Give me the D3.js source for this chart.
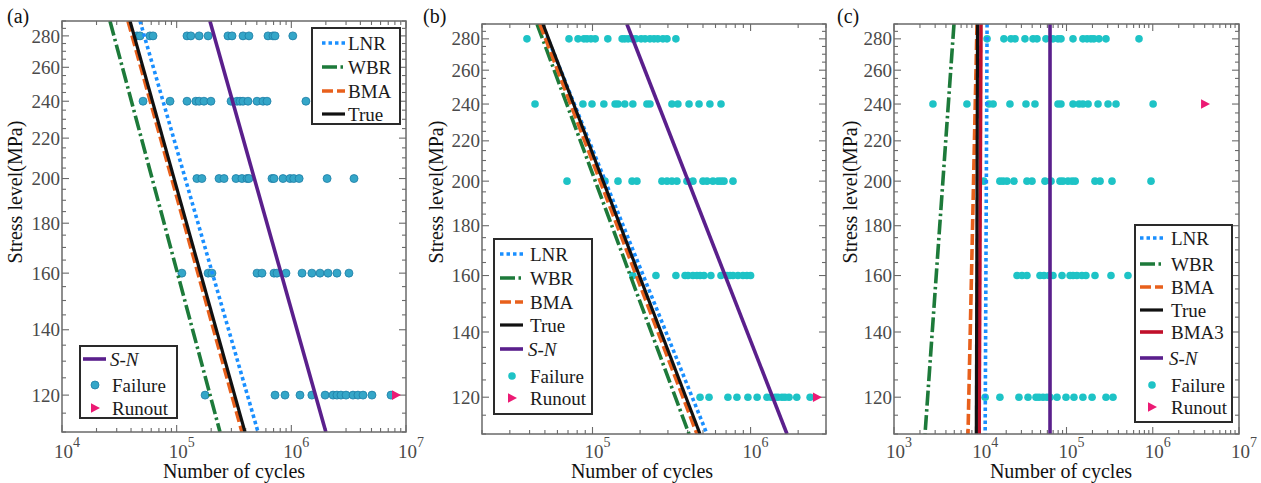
<!DOCTYPE html>
<html>
<head>
<meta charset="utf-8">
<script src="https://cdn.jsdelivr.net/npm/d3@7"></script>
<style>
  body { margin: 0; background: #fff; }
  svg, svg text { font-family: "Liberation Serif", Tinos, "Times New Roman", Times, "Nimbus Roman", "Nimbus Roman No9 L", FreeSerif, "DejaVu Serif", "Noto Serif", serif; }
</style>
</head>
<body>
<svg width="1261" height="483"></svg>
<script>
// ---- data -----------------------------------------------------------
const stressLevels = [280, 240, 200, 160, 120];
const yTickLabels = [120, 140, 160, 180, 200, 220, 240, 260, 280];
const lineStress = [290, 110]; // every fitted line: N at S=290 and at S=110

// failure cycles, one list per stress level (same order as stressLevels)
const failA = [
  [45100, 47900, 58500, 62200, 123000, 133000, 157000, 188000, 280000, 304000, 379000, 427000, 626000, 692000, 721000, 1030000],
  [50900, 87500, 123000, 147000, 157000, 173000, 199000, 298000, 336000, 357000, 379000, 419000, 502000, 566000, 614000, 1340000],
  [150000, 166000, 234000, 259000, 329000, 371000, 411000, 427000, 678000, 706000, 846000, 973000, 1050000, 1170000, 2050000, 3520000],
  [111000, 188000, 203000, 502000, 555000, 706000, 750000, 898000, 1240000, 1510000, 1780000, 2090000, 2500000, 3180000],
  [177000, 721000, 881000, 1190000, 1510000, 1970000, 2310000, 2500000, 2710000, 3000000, 3450000, 3810000, 4220000, 5050000, 7400000]
];
const failB = [
  [38500, 71000, 81000, 88300, 92300, 97800, 104000, 125000, 154000, 160000, 168000, 178000, 188000, 203000, 215000, 231000, 245000, 259000, 279000, 296000, 337000],
  [43300, 87000, 99300, 118000, 139000, 145000, 160000, 180000, 221000, 231000, 318000, 347000, 408000, 472000, 553000, 650000],
  [69000, 120000, 145000, 178000, 191000, 275000, 296000, 318000, 342000, 396000, 432000, 500000, 530000, 578000, 622000, 650000, 679000, 774000],
  [180000, 252000, 337000, 385000, 402000, 432000, 458000, 479000, 507000, 561000, 650000, 710000, 741000, 774000, 832000, 895000, 948000, 1000000],
  [479000, 546000, 719000, 820000, 962000, 1100000, 1270000, 1350000, 1430000, 1490000, 1580000, 1650000, 1750000, 1960000, 2380000]
];
const failC = [
  [12000, 18800, 22700, 25300, 33000, 40900, 45500, 57800, 69700, 79700, 86300, 119000, 155000, 173000, 192000, 208000, 238000, 287000, 693000],
  [2830, 7010, 12600, 14100, 22100, 33900, 43100, 79700, 86300, 119000, 140000, 155000, 178000, 232000, 303000, 375000, 1010000],
  [11000, 16900, 18400, 20400, 24600, 34800, 39800, 56300, 66100, 84100, 91000, 104000, 116000, 126000, 214000, 245000, 337000, 955000],
  [26700, 30500, 34800, 49300, 54800, 62700, 69700, 88700, 110000, 119000, 132000, 151000, 168000, 214000, 328000, 516000],
  [11400, 16900, 28100, 35800, 44300, 48000, 53400, 59400, 64400, 77600, 98700, 122000, 155000, 198000, 287000, 346000]
];
// runouts: [stress, cycles]
const runA = [[120, 8180000]];
const runB = [[120, 2630000]];
const runC = [[240, 4040000]];

// fitted lines: [name, N at S=290, N at S=110]
const linesA = [["LNR", 47900, 512000], ["WBR", 26200, 238700], ["BMA", 37600, 371000], ["True", 39200, 394000], ["S-N", 195000, 2000000]];
const linesB = [["LNR", 48000, 530000], ["WBR", 44600, 408000], ["BMA", 46500, 458000], ["True", 48600, 479000], ["S-N", 165000, 1700000]];
const linesC = [["LNR", 12000, 11400], ["WBR", 4960, 2290], ["BMA", 9170, 7210], ["BMA3", 10200, 9700], ["True", 9300, 9000], ["S-N", 64400, 64400]];

// ---- styles ---------------------------------------------------------
const lineStyle = {
  "LNR":  { color: "#1a8fff", width: 3.6, dash: "3.5,3" },
  "WBR":  { color: "#1d7a3a", width: 3.6, dash: "15,3.5,2.5,3.5" },
  "BMA":  { color: "#e8601c", width: 3.6, dash: "11,4" },
  "True": { color: "#111111", width: 3.2, dash: null },
  "BMA3": { color: "#c0102a", width: 3.6, dash: null },
  "S-N":  { color: "#5a1f8c", width: 3.6, dash: null }
};
const RUNOUT = "#ec1a74";

const panels = [
  { id: "a", label: "(a)", labelX: 7, left: 62, right: 406, top: 21, bottom: 432, xDomain: [1e4, 1e7],
    fail: failA, run: runA, lines: linesA,
    pt: { fill: "#34a6c8", stroke: "#1e7ea6", r: 4 },
    yTitleX: 22, xTitleX: 234,
    legends: [
      { x: 312, y: 28, w: 88, h: 96, rows: [["LNR", 43], ["WBR", 67], ["BMA", 91], ["True", 114]], lx: 322, tx: 348 },
      { x: 80, y: 346, w: 97, h: 72, rows: [["S-N", 359], ["Failure", 385], ["Runout", 408]], lx: 83, tx: 112 }
    ] },
  { id: "b", label: "(b)", labelX: 423, left: 482, right: 826, top: 24, bottom: 434, xDomain: [2e4, 3e6],
    fail: failB, run: runB, lines: linesB,
    pt: { fill: "#1ec3c6", stroke: "none", r: 3.8 },
    yTitleX: 443, xTitleX: 642,
    legends: [
      { x: 494, y: 239, w: 98, h: 175, rows: [["LNR", 254], ["WBR", 278], ["BMA", 302], ["True", 325], ["S-N", 349], ["Failure", 376], ["Runout", 398]], lx: 500, tx: 530 }
    ] },
  { id: "c", label: "(c)", labelX: 837, left: 894, right: 1239, top: 24, bottom: 434, xDomain: [1e3, 1e7],
    fail: failC, run: runC, lines: linesC,
    pt: { fill: "#1ec3c6", stroke: "none", r: 3.8 },
    yTitleX: 857, xTitleX: 1061,
    legends: [
      { x: 1135, y: 225, w: 97, h: 197, rows: [["LNR", 238], ["WBR", 264], ["BMA", 287], ["True", 310], ["BMA3", 332], ["S-N", 358], ["Failure", 385], ["Runout", 407]], lx: 1140, tx: 1171 }
    ] }
];

const svg = d3.select("svg");
const tri = "M-4,-4.8L5,0L-4,4.8Z";

panels.forEach(function (p) {
  const x = d3.scaleLog().domain(p.xDomain).range([p.left, p.right]);
  const y = d3.scaleLog().domain([110, 290]).range([p.bottom, p.top]);
  const g = svg.append("g").attr("id", "panel-" + p.id);

  g.append("clipPath").attr("id", "clip-" + p.id)
    .append("rect").attr("x", p.left).attr("y", p.top)
    .attr("width", p.right - p.left).attr("height", p.bottom - p.top);

  // ticks (inward, on all four sides)
  const xt = [];
  const k0 = Math.floor(Math.log10(p.xDomain[0])), k1 = Math.ceil(Math.log10(p.xDomain[1]));
  for (let k = k0; k <= k1; k++) {
    for (let m = 1; m <= 9; m++) {
      const v = m * Math.pow(10, k);
      if (v >= p.xDomain[0] * 0.999 && v <= p.xDomain[1] * 1.001) xt.push({ v: v, major: m === 1, k: k });
    }
  }
  const ticks = g.append("g").attr("stroke", "#6a6a6a").attr("stroke-width", 1.1);
  xt.forEach(function (t) {
    const len = t.major ? 7 : 4;
    const px = x(t.v);
    ticks.append("line").attr("x1", px).attr("x2", px).attr("y1", p.bottom).attr("y2", p.bottom - len);
    ticks.append("line").attr("x1", px).attr("x2", px).attr("y1", p.top).attr("y2", p.top + len);
  });
  d3.range(110, 291, 5).forEach(function (v) {
    const major = yTickLabels.indexOf(v) >= 0;
    const len = major ? 7 : 4;
    const py = y(v);
    ticks.append("line").attr("x1", p.left).attr("x2", p.left + len).attr("y1", py).attr("y2", py);
    ticks.append("line").attr("x1", p.right).attr("x2", p.right - len).attr("y1", py).attr("y2", py);
  });

  // x tick labels 10^k
  xt.filter(function (t) { return t.major; }).forEach(function (t) {
    const tx = g.append("text").attr("x", x(t.v) - 8).attr("y", 458)
      .attr("font-size", 19).attr("fill", "#4a4a4a");
    tx.append("tspan").text("10");
    tx.append("tspan").attr("dy", -11).attr("font-size", 14).text(t.k);
  });
  // y tick labels
  g.selectAll(".ylab").data(yTickLabels).enter().append("text")
    .attr("x", p.left - 2).attr("y", function (d) { return y(d); }).attr("dy", "0.35em")
    .attr("text-anchor", "end").attr("font-size", 19).attr("fill", "#4a4a4a")
    .text(function (d) { return d; });

  // failure points
  const pts = g.append("g");
  stressLevels.forEach(function (s, i) {
    pts.selectAll(null).data(p.fail[i]).enter().append("circle")
      .attr("cx", function (d) { return x(d); }).attr("cy", y(s)).attr("r", p.pt.r)
      .attr("fill", p.pt.fill).attr("stroke", p.pt.stroke).attr("stroke-width", 0.8);
  });
  pts.selectAll(null).data(p.run).enter().append("path")
    .attr("d", tri).attr("fill", RUNOUT)
    .attr("transform", function (d) { return "translate(" + x(d[1]) + "," + y(d[0]) + ")"; });

  // fitted lines
  const lg = g.append("g").attr("clip-path", "url(#clip-" + p.id + ")");
  const line = d3.line().x(function (d) { return x(d[1]); }).y(function (d) { return y(d[0]); });
  p.lines.forEach(function (l) {
    const st = lineStyle[l[0]];
    lg.append("path")
      .attr("d", line([[lineStress[0], l[1]], [lineStress[1], l[2]]]))
      .attr("fill", "none").attr("stroke", st.color).attr("stroke-width", st.width)
      .attr("stroke-dasharray", st.dash);
  });

  // frame
  g.append("rect").attr("x", p.left).attr("y", p.top)
    .attr("width", p.right - p.left).attr("height", p.bottom - p.top)
    .attr("fill", "none").attr("stroke", "#6a6a6a").attr("stroke-width", 1.5);

  // titles
  g.append("text").attr("x", p.xTitleX).attr("y", 478).attr("text-anchor", "middle")
    .attr("font-size", 20).attr("fill", "#111").text("Number of cycles");
  g.append("text").attr("transform", "translate(" + p.yTitleX + ",192) rotate(-90)")
    .attr("text-anchor", "middle").attr("font-size", 20).attr("fill", "#111").text("Stress level(MPa)");
  g.append("text").attr("x", p.labelX).attr("y", 23).attr("font-size", 20).attr("fill", "#111").text(p.label);

  // legends
  p.legends.forEach(function (L) {
    const lgd = g.append("g");
    lgd.append("rect").attr("x", L.x).attr("y", L.y).attr("width", L.w).attr("height", L.h)
      .attr("fill", "#fff").attr("stroke", "#2a2a2a").attr("stroke-width", 2);
    L.rows.forEach(function (r) {
      const key = r[0], ry = r[1];
      if (key === "Failure") {
        lgd.append("circle").attr("cx", L.lx + 12).attr("cy", ry).attr("r", p.pt.r)
          .attr("fill", p.pt.fill).attr("stroke", p.pt.stroke).attr("stroke-width", 0.8);
      } else if (key === "Runout") {
        lgd.append("path").attr("d", tri).attr("fill", RUNOUT)
          .attr("transform", "translate(" + (L.lx + 12) + "," + ry + ")");
      } else {
        const st = lineStyle[key];
        lgd.append("line").attr("x1", L.lx).attr("x2", L.lx + 23).attr("y1", ry).attr("y2", ry)
          .attr("stroke", st.color).attr("stroke-width", st.width).attr("stroke-dasharray", st.dash);
      }
      const t = lgd.append("text").attr("x", key === "S-N" ? L.tx - 2 : L.tx).attr("y", ry).attr("dy", "0.35em")
        .attr("font-size", 19).attr("fill", "#1a1a1a").text(key);
      if (key === "S-N") t.attr("font-style", "italic");
    });
  });
});
</script>
</body>
</html>
